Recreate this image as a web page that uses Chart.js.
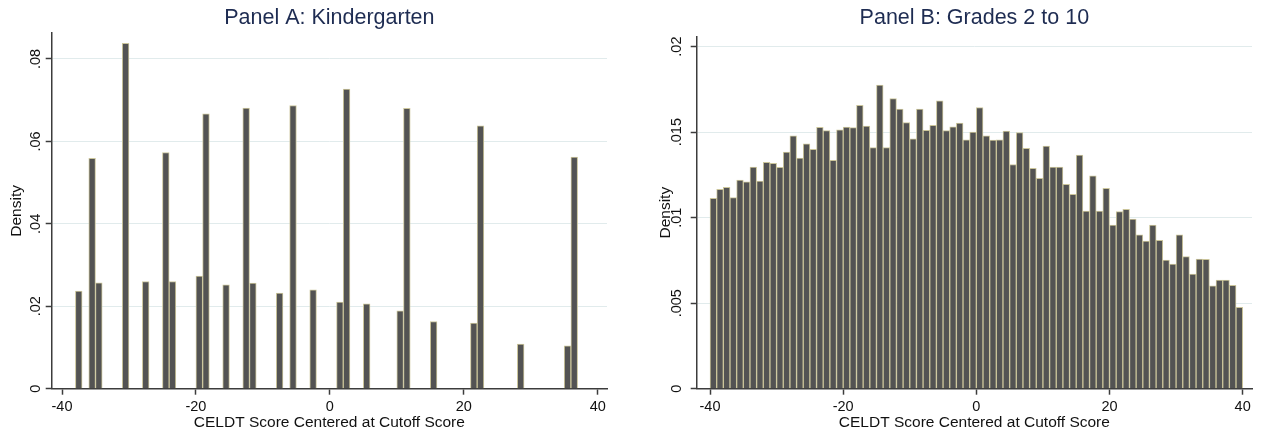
<!DOCTYPE html>
<html>
<head>
<meta charset="utf-8">
<title>CELDT score density histograms</title>
<script src="https://cdn.jsdelivr.net/npm/chart.js@4.4.1/dist/chart.umd.min.js"></script>
<style>
  html, body { margin: 0; padding: 0; background: #ffffff; }
  body { width: 1265px; height: 436px; position: relative; overflow: hidden; }
  canvas { position: absolute; top: 0; }
  #panelA { left: 0; }
  #panelB { left: 649px; }
</style>
</head>
<body>
<canvas id="panelA" width="630" height="436"></canvas>
<canvas id="panelB" width="616" height="436"></canvas>
<script>
// Panel A: kindergarten, one-point bins (bin centres and density)
const binCentersA = [-37.5, -35.5, -34.5, -30.5, -27.5, -24.5, -23.5, -19.5, -18.5, -15.5,
                     -12.5, -11.5, -7.5, -5.5, -2.5, 1.5, 2.5, 5.5, 10.5, 11.5,
                     15.5, 21.5, 22.5, 28.5, 35.5, 36.5];
const densityA = [0.0237, 0.0559, 0.0257, 0.0838, 0.0260, 0.0573, 0.0260, 0.0273, 0.0667, 0.0252,
                  0.0681, 0.0256, 0.0232, 0.0687, 0.0240, 0.0210, 0.0727, 0.0206, 0.0189, 0.0680,
                  0.0163, 0.0159, 0.0638, 0.0108, 0.0104, 0.0562];

// Panel B: grades 2 to 10, one-point bins from -40 to 40
const binCentersB = [-39.5, -38.5, -37.5, -36.5, -35.5, -34.5, -33.5, -32.5, -31.5, -30.5,
                     -29.5, -28.5, -27.5, -26.5, -25.5, -24.5, -23.5, -22.5, -21.5, -20.5,
                     -19.5, -18.5, -17.5, -16.5, -15.5, -14.5, -13.5, -12.5, -11.5, -10.5,
                     -9.5, -8.5, -7.5, -6.5, -5.5, -4.5, -3.5, -2.5, -1.5, -0.5,
                     0.5, 1.5, 2.5, 3.5, 4.5, 5.5, 6.5, 7.5, 8.5, 9.5,
                     10.5, 11.5, 12.5, 13.5, 14.5, 15.5, 16.5, 17.5, 18.5, 19.5,
                     20.5, 21.5, 22.5, 23.5, 24.5, 25.5, 26.5, 27.5, 28.5, 29.5,
                     30.5, 31.5, 32.5, 33.5, 34.5, 35.5, 36.5, 37.5, 38.5, 39.5];
const densityB = [0.01113, 0.01166, 0.01177, 0.01117, 0.01220, 0.01210, 0.01296, 0.01214, 0.01323, 0.01318,
                  0.01294, 0.01384, 0.01479, 0.01349, 0.01431, 0.01399, 0.01528, 0.01509, 0.01335, 0.01514,
                  0.01530, 0.01526, 0.01657, 0.01536, 0.01409, 0.01775, 0.01409, 0.01696, 0.01635, 0.01556,
                  0.01461, 0.01635, 0.01510, 0.01540, 0.01683, 0.01509, 0.01531, 0.01553, 0.01455, 0.01501,
                  0.01644, 0.01479, 0.01453, 0.01455, 0.01506, 0.01311, 0.01497, 0.01405, 0.01288, 0.01230,
                  0.01419, 0.01296, 0.01296, 0.01195, 0.01136, 0.01366, 0.01039, 0.01245, 0.01039, 0.01171,
                  0.00957, 0.01035, 0.01049, 0.00992, 0.00899, 0.00863, 0.00957, 0.00867, 0.00752, 0.00729,
                  0.00899, 0.00772, 0.00670, 0.00758, 0.00756, 0.00602, 0.00635, 0.00635, 0.00604, 0.00476];

// Axis ticks and their printed labels
const xTickValues = [-40, -20, 0, 20, 40];
const xTickLabels = ["-40", "-20", "0", "20", "40"];
const yTickValuesA = [0, 0.02, 0.04, 0.06, 0.08];
const yTickLabelsA = ["0", ".02", ".04", ".06", ".08"];
const yTickValuesB = [0, 0.005, 0.01, 0.015, 0.02];
const yTickLabelsB = ["0", ".005", ".01", ".015", ".02"];

const FONT = "'Liberation Sans', Arial, Helvetica, sans-serif";
const AXIS_COLOR = '#3c3c3c';
const GRID_COLOR = '#e1ebec';
const BAR_FILL = '#535353';
const BAR_EDGE = '#cbc59b';
const TITLE_COLOR = '#1e2c52';

function makePanel(canvasId, titleText, centers, dens, yVals, yLabels, g) {
  const points = centers.map((c, i) => ({ x: c, y: dens[i] }));
  return new Chart(document.getElementById(canvasId), {
    type: 'bar',
    data: {
      datasets: [{
        data: points,
        backgroundColor: BAR_FILL,
        borderColor: BAR_EDGE,
        borderWidth: 1,
        borderSkipped: 'start',
        barPercentage: 1,
        categoryPercentage: 1
      }]
    },
    options: {
      responsive: false,
      devicePixelRatio: 1,
      animation: false,
      events: [],
      layout: { padding: { left: 0, right: g.padRight, top: 0, bottom: 0 } },
      plugins: {
        legend: { display: false },
        tooltip: { enabled: false },
        title: {
          display: true,
          text: titleText,
          fullSize: false,
          color: TITLE_COLOR,
          font: { family: FONT, size: 21.5, weight: 'normal', lineHeight: 1.2 },
          padding: { top: 5, bottom: g.titleBottom }
        }
      },
      scales: {
        x: {
          type: 'linear',
          min: g.xMin,
          max: g.xMax,
          offset: false,
          afterBuildTicks: s => { s.ticks = xTickValues.map(v => ({ value: v })); },
          afterFit: s => { s.height = 47.3; },
          ticks: {
            color: '#111',
            padding: 4,
            maxRotation: 0,
            autoSkip: false,
            font: { family: FONT, size: 14.5 },
            callback: v => xTickLabels[xTickValues.indexOf(v)]
          },
          grid: {
            offset: false,
            drawOnChartArea: false,
            drawTicks: true,
            tickLength: 6,
            tickColor: AXIS_COLOR,
            tickWidth: 1.5
          },
          border: { display: true, color: AXIS_COLOR, width: 1.5 },
          title: {
            display: true,
            text: 'CELDT Score Centered at Cutoff Score',
            color: '#111',
            font: { family: FONT, size: 15.5, lineHeight: 1.2 },
            padding: { top: 0, bottom: 3.7 }
          }
        },
        y: {
          type: 'linear',
          min: 0,
          max: g.yMax,
          afterBuildTicks: s => { s.ticks = yVals.map(v => ({ value: v })); },
          afterFit: s => { s.width = g.yWidth; },
          ticks: {
            color: '#111',
            padding: 0,
            minRotation: 90,
            maxRotation: 90,
            crossAlign: 'center',
            autoSkip: false,
            font: { family: FONT, size: 14.5 },
            callback: v => yLabels[yVals.indexOf(v)]
          },
          grid: {
            color: c => (c.tick && c.tick.value === 0) ? 'rgba(0,0,0,0)' : GRID_COLOR,
            lineWidth: 1,
            drawTicks: true,
            tickLength: 6,
            tickColor: AXIS_COLOR,
            tickWidth: 1.5
          },
          border: { display: true, color: AXIS_COLOR, width: 1.5 },
          title: {
            display: true,
            text: 'Density',
            color: '#111',
            font: { family: FONT, size: 15.5, lineHeight: 1.2 },
            padding: { top: 7.2, bottom: 0 }
          }
        }
      }
    }
  });
}

makePanel('panelA', 'Panel A: Kindergarten', binCentersA, densityA, yTickValuesA, yTickLabelsA,
  { xMin: -41.54, xMax: 41.39, yMax: 0.0863, yWidth: 51.7, padRight: 23, titleBottom: 2.2 });

makePanel('panelB', 'Panel B: Grades 2 to 10', binCentersB, densityB, yTickValuesB, yTickLabelsB,
  { xMin: -42.0, xMax: 41.4, yMax: 0.02058, yWidth: 47.7, padRight: 13, titleBottom: 5.9 });
</script>
</body>
</html>
